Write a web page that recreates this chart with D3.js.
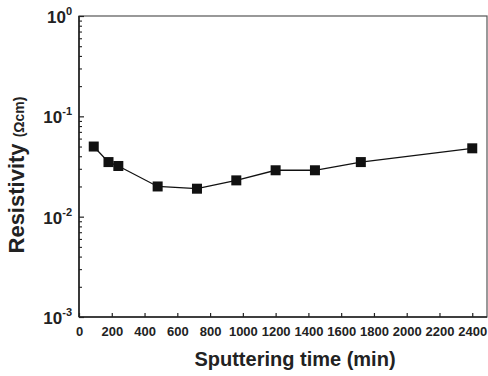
<!DOCTYPE html>
<html>
<head>
<meta charset="utf-8">
<script src="https://cdn.jsdelivr.net/npm/d3@7"></script>
<style>
  body { margin: 0; background: #fff; }
  svg { font-family: "Liberation Sans", Arial, sans-serif; }
</style>
</head>
<body>
<svg id="chart" width="488" height="376"></svg>
<script>
const times = [90, 180, 240, 480, 720, 960, 1200, 1440, 1720, 2400];
const resistivity = [0.050, 0.035, 0.032, 0.020, 0.019, 0.023, 0.029, 0.029, 0.035, 0.048];
const xTicks = [0, 200, 400, 600, 800, 1000, 1200, 1400, 1600, 1800, 2000, 2200, 2400];
const yExponents = [0, -1, -2, -3];

const margin = { left: 79, top: 16, right: 1, bottom: 59 };
const width = 488 - margin.left - margin.right;
const height = 376 - margin.top - margin.bottom;

const svg = d3.select('#chart');
const g = svg.append('g').attr('transform', `translate(${margin.left},${margin.top})`);

const x = d3.scaleLinear().domain([0, 2490]).range([0, width]);
const y = d3.scaleLog().domain([1e-3, 1]).range([height, 0]);

// frame
g.append('rect')
  .attr('width', width).attr('height', height)
  .attr('fill', 'none').attr('stroke', '#555').attr('stroke-width', 1.2);
g.append('line').attr('x1', 0).attr('x2', 0).attr('y1', 0).attr('y2', height)
  .attr('stroke', '#222').attr('stroke-width', 1.6);
g.append('line').attr('x1', 0).attr('x2', width).attr('y1', height).attr('y2', height)
  .attr('stroke', '#222').attr('stroke-width', 1.6);

// x axis, ticks inward
const xAxis = g.append('g')
  .attr('transform', `translate(0,${height})`)
  .call(d3.axisBottom(x).tickValues(xTicks).tickSize(-4).tickPadding(10).tickFormat(d3.format('d')));
xAxis.select('.domain').remove();
xAxis.selectAll('line').attr('stroke', '#222').attr('stroke-width', 1.2);
xAxis.selectAll('text')
  .attr('font-size', 13).attr('font-weight', 'bold').attr('fill', '#222')
  .attr('font-family', '"Liberation Sans", Arial, sans-serif');

// y axis, major + minor log ticks inward
const minorVals = [];
for (let e = -3; e < 0; e++) {
  for (let m = 2; m <= 9; m++) minorVals.push(m * Math.pow(10, e));
}
const yMinor = g.append('g')
  .call(d3.axisLeft(y).tickValues(minorVals).tickSize(-3).tickFormat(''));
yMinor.select('.domain').remove();
yMinor.selectAll('line').attr('stroke', '#222').attr('stroke-width', 1.1);

const yMajor = g.append('g')
  .call(d3.axisLeft(y).tickValues(yExponents.map(e => Math.pow(10, e))).tickSize(-5).tickFormat(''));
yMajor.select('.domain').remove();
yMajor.selectAll('line').attr('stroke', '#222').attr('stroke-width', 1.2);

const yLabels = g.append('g');
yExponents.forEach(e => {
  const t = yLabels.append('text')
    .attr('x', -7).attr('y', y(Math.pow(10, e)) + 7)
    .attr('text-anchor', 'end')
    .attr('font-size', 17).attr('font-weight', 'bold').attr('fill', '#222');
  t.append('tspan').text('10');
  t.append('tspan').attr('dy', -8).attr('font-size', 11).text(e);
});

// line and markers
const line = d3.line().x((d, i) => x(times[i])).y(d => y(d));
g.append('path')
  .datum(resistivity)
  .attr('d', line)
  .attr('fill', 'none').attr('stroke', '#111').attr('stroke-width', 1.3);

g.selectAll('rect.pt')
  .data(resistivity)
  .enter().append('rect')
  .attr('class', 'pt')
  .attr('x', (d, i) => x(times[i]) - 5)
  .attr('y', d => y(d) - 5)
  .attr('width', 10).attr('height', 10)
  .attr('fill', '#111');

// axis titles
svg.append('text')
  .attr('x', 295).attr('y', 366)
  .attr('text-anchor', 'middle')
  .attr('font-size', 20).attr('font-weight', 'bold').attr('fill', '#222')
  .text('Sputtering time (min)');

const yt = svg.append('text')
  .attr('transform', 'translate(24,175) rotate(-90)')
  .attr('text-anchor', 'middle')
  .attr('font-size', 22).attr('font-weight', 'bold').attr('fill', '#222');
yt.append('tspan').text('Resistivity ');
yt.append('tspan').attr('font-size', 14).text('(Ωcm)');
</script>
</body>
</html>
